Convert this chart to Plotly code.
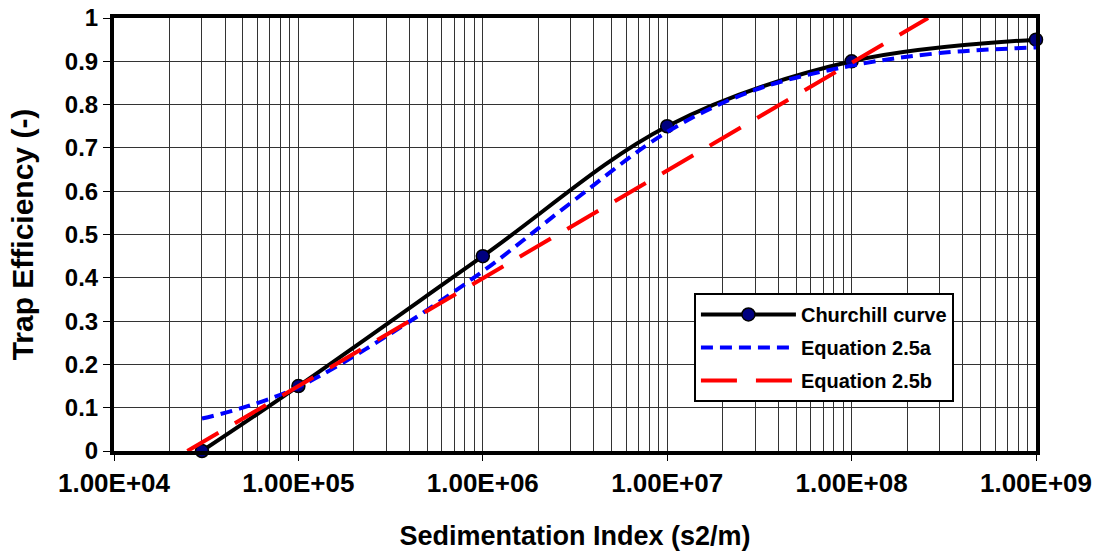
import plotly.graph_objects as go

# ---- data ----
churchill_x = [3e4, 1e5, 1e6, 1e7, 1e8, 1e9]
churchill_y = [0.0, 0.15, 0.45, 0.75, 0.90, 0.95]

eq25a_x = [3e4, 5e4, 1e5, 3e5, 1e6, 3e6, 1e7, 3e7, 1e8, 3e8, 1e9]
eq25a_y = [0.075, 0.100, 0.148, 0.265, 0.415, 0.573, 0.737, 0.834, 0.890, 0.919, 0.932]

eq25b_x = [2.5e4, 1e5, 1e6, 1e7, 1e8, 2.6e8]
eq25b_y = [0.0, 0.15, 0.40, 0.648, 0.896, 1.0]

x_tickvals = [1e4, 1e5, 1e6, 1e7, 1e8, 1e9]
x_ticktext = ["1.00E+04", "1.00E+05", "1.00E+06", "1.00E+07", "1.00E+08", "1.00E+09"]

y_tickvals = [0.0, 0.1, 0.2, 0.3, 0.4, 0.5, 0.6, 0.7, 0.8, 0.9, 1.0]
y_ticktext = ["0", "0.1", "0.2", "0.3", "0.4", "0.5", "0.6", "0.7", "0.8", "0.9", "1"]

series_names = ["Churchill curve", "Equation 2.5a", "Equation 2.5b"]

minor_vals = [m * 10 ** e for e in range(4, 9) for m in range(2, 10)]

FONT = "Liberation Sans, Arial, sans-serif"

fig = go.Figure()
fig.add_trace(go.Scatter(
    x=churchill_x, y=churchill_y, name=series_names[0], legendgroup="a",
    mode="lines+markers", line=dict(color="black", width=4, shape="spline", smoothing=1.0),
    marker=dict(size=13, color="#000080", line=dict(color="black", width=1.5)),
    cliponaxis=False,
))
fig.add_trace(go.Scatter(
    x=eq25a_x, y=eq25a_y, name=series_names[1], legendgroup="b",
    mode="lines", line=dict(color="#0000FF", width=4, dash="12px,7px", shape="spline"),
))
fig.add_trace(go.Scatter(
    x=eq25b_x, y=eq25b_y, name=series_names[2], legendgroup="c",
    mode="lines", line=dict(color="#FF0000", width=4, dash="36px,19px"),
))

fig.update_layout(
    width=1099, height=551,
    margin=dict(l=114, r=63, t=18, b=100),
    paper_bgcolor="white", plot_bgcolor="white",
    font=dict(family=FONT, color="black", weight="bold"),
    showlegend=True,
    legend=dict(
        x=0.629, y=0.365, xanchor="left", yanchor="top",
        bgcolor="white", bordercolor="black", borderwidth=2,
        font=dict(family=FONT, size=20, color="black", weight="bold"),
        itemwidth=95, tracegroupgap=4,
    ),
)

fig.update_xaxes(
    type="log", range=[4, 9],
    tickvals=x_tickvals, ticktext=x_ticktext,
    tickfont=dict(family=FONT, size=26, weight="bold"),
    ticks="outside", ticklen=6, tickcolor="black", tickwidth=1,
    ticklabeloverflow="allow",
    showgrid=True, gridcolor="#333333", gridwidth=1,
    minor=dict(tickvals=minor_vals, showgrid=True, gridcolor="#333333", gridwidth=1, ticks=""),
    showline=True, linecolor="black", linewidth=4, mirror=True,
    title=dict(text="Sedimentation Index (s2/m)", font=dict(family=FONT, size=27, weight="bold"), standoff=30),
    automargin=False, zeroline=False,
)
fig.update_yaxes(
    range=[0, 1],
    tickvals=y_tickvals, ticktext=y_ticktext,
    tickfont=dict(family=FONT, size=24, weight="bold"),
    ticks="outside", ticklen=7, tickcolor="black", tickwidth=1,
    ticklabeloverflow="allow",
    showgrid=True, gridcolor="#333333", gridwidth=1,
    showline=True, linecolor="black", linewidth=4, mirror=True,
    title=dict(text="Trap Efficiency (-)", font=dict(family=FONT, size=30, weight="bold"), standoff=23),
    automargin=False, zeroline=False,
)

fig.write_html("out.html", config={"displayModeBar": False},
               post_script="document.body.style.margin='0';")
